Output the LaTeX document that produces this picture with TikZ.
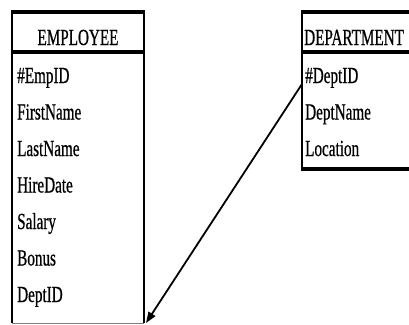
\documentclass[tikz,border=0pt]{standalone}
\usepackage{fontspec}
\setmainfont{Liberation Serif}[FakeStretch=0.66,FakeBold=0.6]
\usetikzlibrary{arrows.meta}
\begin{document}
\begin{tikzpicture}[x=1pt,y=-1pt,
  field/.style={anchor=base west, inner sep=0pt, font=\fontsize{23}{23}\selectfont},
  title/.style={anchor=base, inner sep=0pt, font=\fontsize{23}{23}\selectfont},
  thinb/.style={line width=1.3pt},
  thickb/.style={line width=3.8pt},
  rel/.style={line width=1.8pt, -{Triangle[length=11pt,width=8pt]}}]
\useasboundingbox (0,0) rectangle (409,324);
\clip (0,0) rectangle (409,324);
% EMPLOYEE entity
\draw[thinb] (12,12) -- (12,323);
\draw[thinb] (144,12) -- (144,323);
\draw[gray, line width=1pt] (12,323) -- (144,323);
\draw[thickb] (11,12) -- (145,12);
\draw[thickb] (11,52) -- (145,52);
\node[title] (emptitle) at (78,45) {EMPLOYEE};
\node[field] (f1) at (17,83) {\#EmpID};
\node[field] (f2) at (17,119.5) {FirstName};
\node[field] (f3) at (17,156) {LastName};
\node[field] (f4) at (17,192.5) {HireDate};
\node[field] (f5) at (17,229) {Salary};
\node[field] (f6) at (17,265.5) {Bonus};
\node[field] (f7) at (17,302) {DeptID};
% DEPARTMENT entity
\draw[thinb] (302,12) -- (302,169);
\draw[thickb] (301,12) -- (420,12);
\draw[thickb] (301,52) -- (420,52);
\draw[thickb] (301,169) -- (420,169);
\node[field] (depttitle) at (304,45) {DEPARTMENT};
\node[field] (d1) at (305,83) {\#DeptID};
\node[field] (d2) at (305,119.5) {DeptName};
\node[field] (d3) at (305,156) {Location};
% relationship
\coordinate (deptlink) at (302,84);
\coordinate (emplink) at (146,323);
\draw[rel] (deptlink) -- (emplink);
\end{tikzpicture}
\end{document}
